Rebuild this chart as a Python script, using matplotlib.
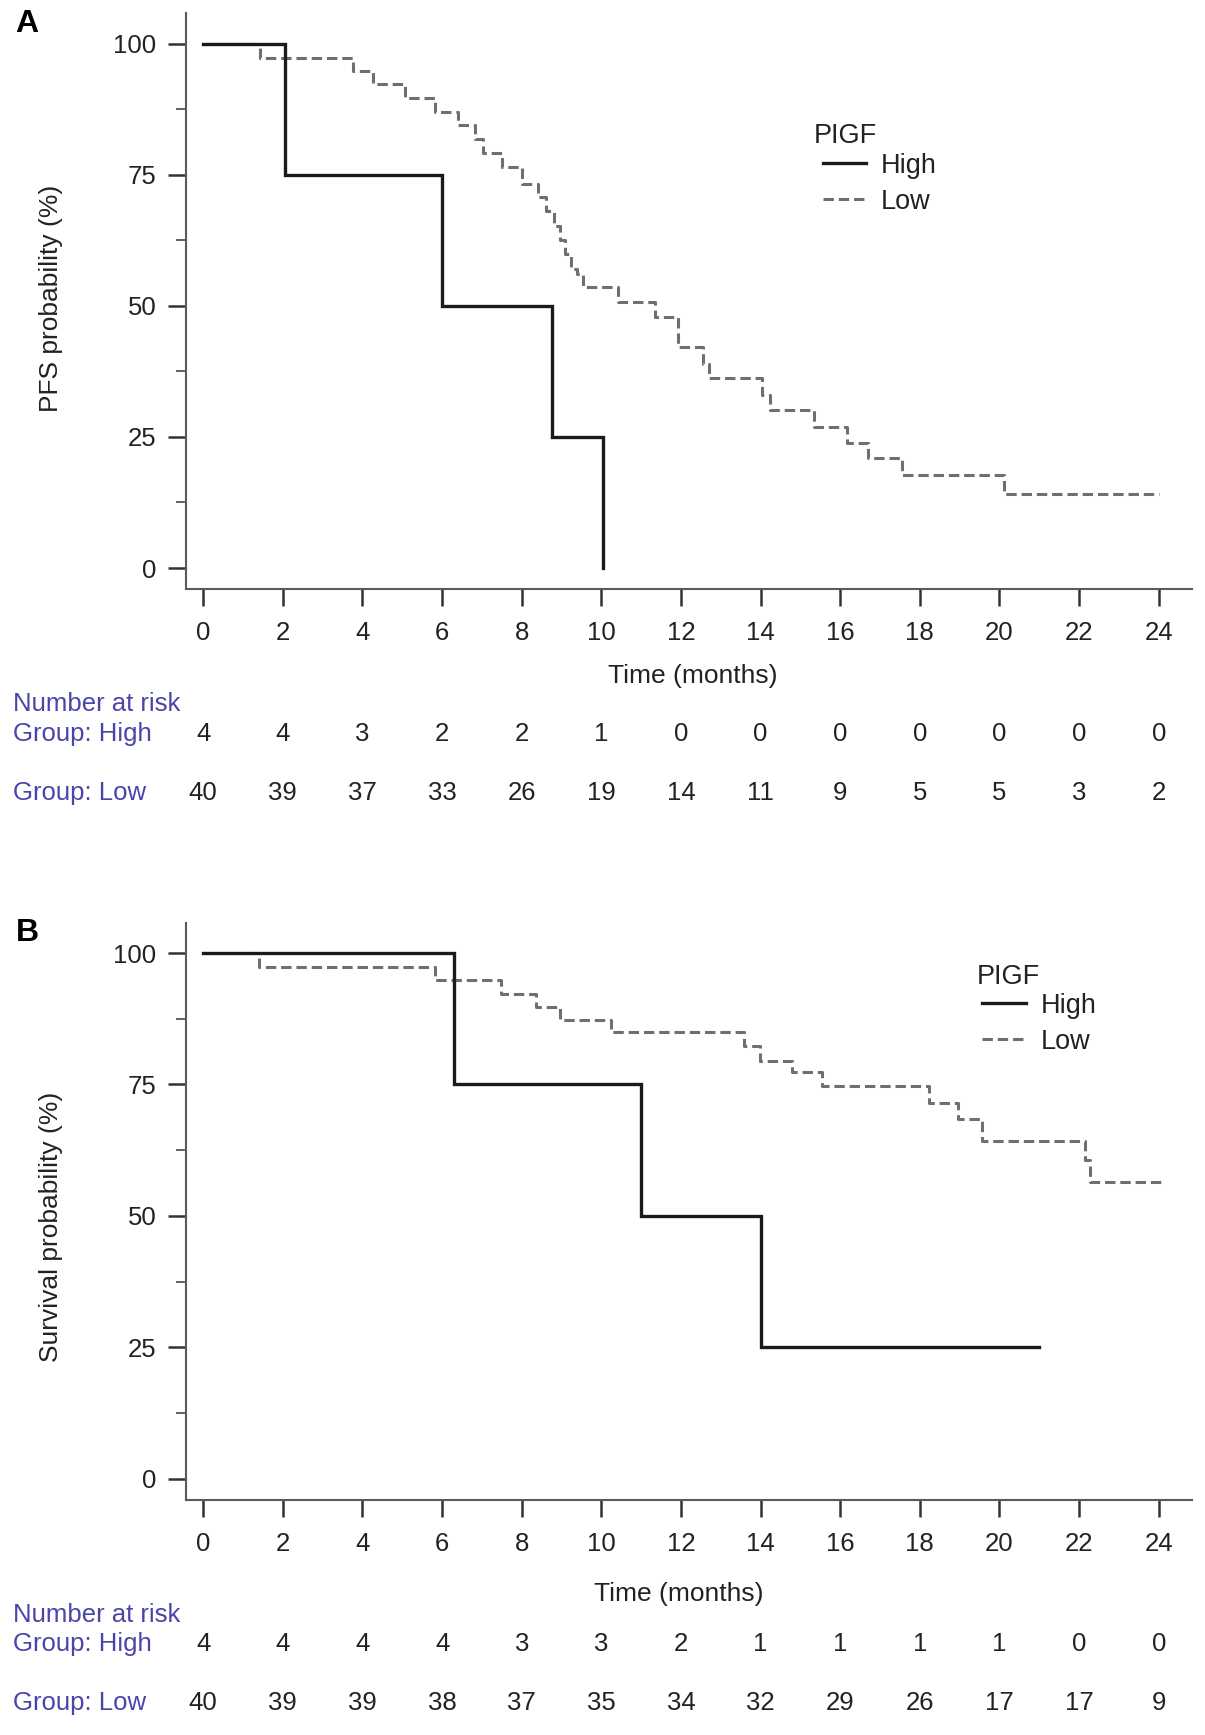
import matplotlib
matplotlib.use("Agg")
import matplotlib.pyplot as plt
import matplotlib.transforms as mtransforms
from matplotlib.lines import Line2D

## step curves: times where the curve drops, level after each drop
pfs_high_t = [0, 2.05, 6.0, 8.75, 10.05]
pfs_high_s = [100, 75, 50, 25, 0]
pfs_high_end = 10.05

pfs_low_t = [0, 1.42, 3.77, 4.26, 5.07, 5.82, 6.40, 6.83, 7.03, 7.50, 8.00, 8.41, 8.60,
             8.80, 8.95, 9.10, 9.25, 9.40, 9.55, 10.42, 11.35, 11.93, 12.56, 12.70,
             14.03, 14.24, 15.33, 16.17, 16.71, 17.55, 20.11]
pfs_low_s = [100, 97.3, 94.7, 92.3, 89.6, 87.0, 84.4, 81.9, 79.1, 76.4, 73.3, 70.7, 68.0,
             65.3, 62.6, 59.9, 57.1, 56.0, 53.6, 50.7, 47.9, 42.2, 39.0, 36.2,
             33.0, 30.1, 26.9, 23.8, 20.9, 17.7, 14.2]
pfs_low_end = 24.0

os_high_t = [0, 6.3, 11.0, 14.0]
os_high_s = [100, 75, 50, 25]
os_high_end = 21.0

os_low_t = [0, 1.41, 5.81, 7.47, 8.35, 8.95, 10.25, 13.58, 13.99, 14.78, 15.54, 18.22,
            18.97, 19.56, 22.15, 22.28]
os_low_s = [100, 97.3, 94.9, 92.3, 89.8, 87.3, 84.9, 82.3, 79.5, 77.3, 74.7, 71.5,
            68.4, 64.2, 60.7, 56.4]
os_low_end = 24.05

## number at risk table
risk_times = [0, 2, 4, 6, 8, 10, 12, 14, 16, 18, 20, 22, 24]
pfs_risk_high = [4, 4, 3, 2, 2, 1, 0, 0, 0, 0, 0, 0, 0]
pfs_risk_low = [40, 39, 37, 33, 26, 19, 14, 11, 9, 5, 5, 3, 2]
os_risk_high = [4, 4, 4, 4, 3, 3, 2, 1, 1, 1, 1, 0, 0]
os_risk_low = [40, 39, 39, 38, 37, 35, 34, 32, 29, 26, 17, 17, 9]

x_ticks = list(range(0, 25, 2))
y_ticks = [0, 25, 50, 75, 100]
y_minor = [12.5, 37.5, 62.5, 87.5]

plt.rcParams['font.family'] = ['Liberation Sans', 'DejaVu Sans']

fig = plt.figure(figsize=(12.05, 17.35), dpi=100)
axA = fig.add_axes([0.1541, 0.6605, 0.8349, 0.3319])
axB = fig.add_axes([0.1541, 0.1357, 0.8349, 0.3325])


def km_panel(ax, hi_t, hi_s, hi_end, lo_t, lo_s, lo_end, ylabel, ylab_y, xlab_x, xlab_y,
             title_xy, leg_xy):
    ax.step(hi_t + [hi_end], hi_s + [hi_s[-1]], where='post', color='#1a1a1a', lw=2.4,
            solid_joinstyle='miter', zorder=3)
    ax.step(lo_t + [lo_end], lo_s + [lo_s[-1]], where='post', color='#6f6f6f', lw=2.2,
            dashes=(3.4, 1.6), zorder=2)
    ax.set_xlim(-0.44, 24.83)
    ax.set_ylim(-4.0, 105.8)
    for s in ['top', 'right']:
        ax.spines[s].set_visible(False)
    for s in ['left', 'bottom']:
        ax.spines[s].set_color('#5a5a5a')
        ax.spines[s].set_linewidth(1.5)
    ax.set_xticks(x_ticks)
    ax.set_yticks(y_ticks)
    ax.set_yticks(y_minor, minor=True)
    ax.tick_params(axis='x', length=12, width=1.8, pad=11, colors='#333333',
                   labelsize=18.5, labelcolor='#222222')
    ax.tick_params(axis='y', which='major', length=13, width=1.8, pad=8,
                   colors='#333333', labelsize=18.5, labelcolor='#222222')
    ax.tick_params(axis='y', which='minor', length=7, width=1.3, colors='#555555')
    ax.set_ylabel(ylabel, fontsize=19, color='#222222')
    ax.yaxis.set_label_coords(-0.122, ylab_y)
    ax.set_xlabel('Time (months)', fontsize=19, color='#222222')
    ax.xaxis.set_label_coords(xlab_x, xlab_y)

    ## legend title drawn on its own, the two entries below it
    ax.text(title_xy[0], title_xy[1], 'PIGF', transform=ax.transAxes, fontsize=19.5,
            color='#222222', va='center', ha='left')
    handles = [Line2D([], [], color='#1a1a1a', lw=2.4),
               Line2D([], [], color='#6f6f6f', lw=2.2, dashes=(3.4, 1.6))]
    leg = ax.legend(handles, ['High', 'Low'], loc='center left',
                    bbox_to_anchor=leg_xy, frameon=False, fontsize=19.5,
                    handlelength=1.6, handletextpad=0.55,
                    labelspacing=0.37, borderpad=0, borderaxespad=0)
    for t in leg.get_texts():
        t.set_color('#222222')


km_panel(axA, pfs_high_t, pfs_high_s, pfs_high_end, pfs_low_t, pfs_low_s, pfs_low_end,
         'PFS probability (%)', 0.505, 0.504, -0.13, (0.624, 0.787), (0.633, 0.704))
km_panel(axB, os_high_t, os_high_s, os_high_end, os_low_t, os_low_s, os_low_end,
         'Survival probability (%)', 0.473, 0.49, -0.143, (0.786, 0.906), (0.792, 0.825))

## number at risk rows, x from the axes data scale, y in figure coordinates
blue = '#4a45a8'


def risk_table(ax, y_title, y_high, y_low, high, low):
    tr = mtransforms.blended_transform_factory(ax.transData, fig.transFigure)
    fig.text(0.011, y_title, 'Number at risk', fontsize=18.5, color=blue, va='center')
    fig.text(0.011, y_high, 'Group: High', fontsize=18.5, color=blue, va='center')
    fig.text(0.011, y_low, 'Group: Low', fontsize=18.5, color=blue, va='center')
    for t, n in zip(risk_times, high):
        ax.text(t, y_high, str(n), transform=tr, ha='center', va='center', fontsize=18.5,
                color='#222222')
    for t, n in zip(risk_times, low):
        ax.text(t, y_low, str(n), transform=tr, ha='center', va='center', fontsize=18.5,
                color='#222222')


risk_table(axA, 0.5943, 0.5771, 0.5427, pfs_risk_high, pfs_risk_low)
risk_table(axB, 0.0694, 0.0522, 0.0185, os_risk_high, os_risk_low)

fig.text(0.022, 0.986, 'A', fontsize=23, fontweight='bold', ha='center', va='center')
fig.text(0.023, 0.462, 'B', fontsize=23, fontweight='bold', ha='center', va='center')

fig.savefig('out.png', dpi=100)
